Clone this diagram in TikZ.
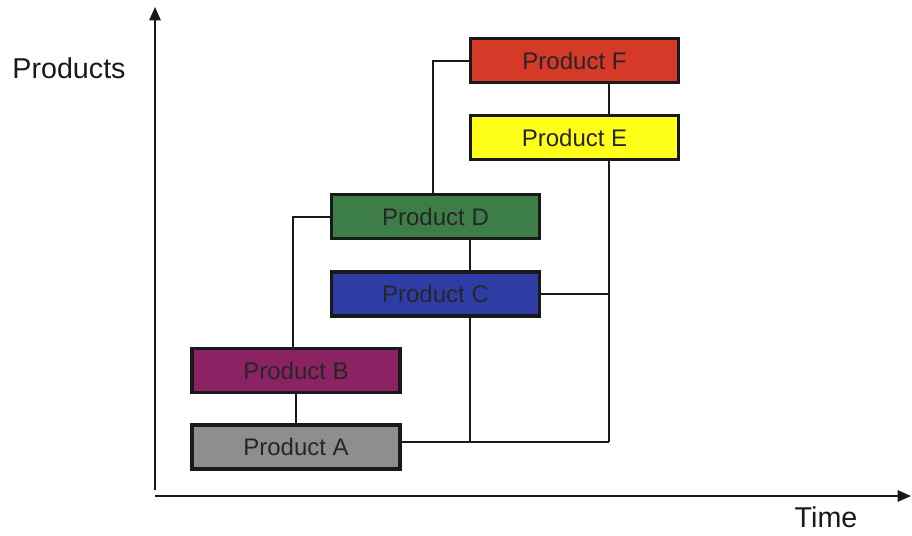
\documentclass[tikz,border=0pt]{standalone}
\usepackage{fontspec}
\setmainfont{Liberation Sans}
\usetikzlibrary{arrows.meta}
\definecolor{prodA}{HTML}{8E8E8E}
\definecolor{prodB}{HTML}{8A2263}
\definecolor{prodC}{HTML}{2E3DA6}
\definecolor{prodD}{HTML}{3D7E47}
\definecolor{prodE}{HTML}{FFFF1A}
\definecolor{prodF}{HTML}{D53A28}
\tikzset{
  prodbox/.style={draw=black!90, line width=2.3pt, minimum width=156pt, minimum height=33pt,
    inner sep=0pt, font=\fontsize{18}{20}\selectfont, text=black!85},
  link/.style={draw=black!90, line width=1.2pt},
  axis/.style={draw=black!90, line width=1.3pt, -{Triangle[length=10pt,width=8.5pt]}},
  axislabel/.style={font=\fontsize{21.5}{24}\selectfont, text=black!90}
}
\begin{document}
\begin{tikzpicture}[x=0.75pt,y=-0.75pt]
  \useasboundingbox (0,0) rectangle (912,535);
  % axes
  \coordinate (origin) at (155,496);
  \coordinate (ytop) at (155,7);
  \coordinate (xend) at (911,496);
  \draw[axis] (155,490) -- (ytop);
  \draw[axis] (155,496) -- (xend);
  \node[axislabel] (ylab) at (69,68) {Products};
  \node[axislabel] (xlab) at (826,517) {Time};

  % product boxes
  \node[prodbox, fill=prodA] (A) at (296,447) {Product A};
  \node[prodbox, fill=prodB] (B) at (296,370.5) {Product B};
  \node[prodbox, fill=prodC] (C) at (435.5,294) {Product C};
  \node[prodbox, fill=prodD] (D) at (435.5,216.5) {Product D};
  \node[prodbox, fill=prodE] (E) at (574.5,137.5) {Product E};
  \node[prodbox, fill=prodF] (F) at (574.5,60.5) {Product F};

  % junction points
  \coordinate (jA) at (470,442);
  \coordinate (jR) at (609,442);
  \coordinate (jC) at (609,294);
  \coordinate (jBD) at (293,217);
  \coordinate (jDF) at (433,61);

  % connectors
  \draw[link] (B.south) -- (A.north);
  \draw[link] (B.north -| jBD) -- (jBD) -- (D.west |- jBD);
  \draw[link] (D.south -| jA) -- (C.north -| jA);
  \draw[link] (D.north -| jDF) -- (jDF) -- (F.west |- jDF);
  \draw[link] (F.south -| jR) -- (E.north -| jR);
  \draw[link] (A.east |- jA) -- (jR);
  \draw[link] (C.south -| jA) -- (jA);
  \draw[link] (E.south -| jR) -- (jR);
  \draw[link] (C.east) -- (jC);
\end{tikzpicture}
\end{document}
